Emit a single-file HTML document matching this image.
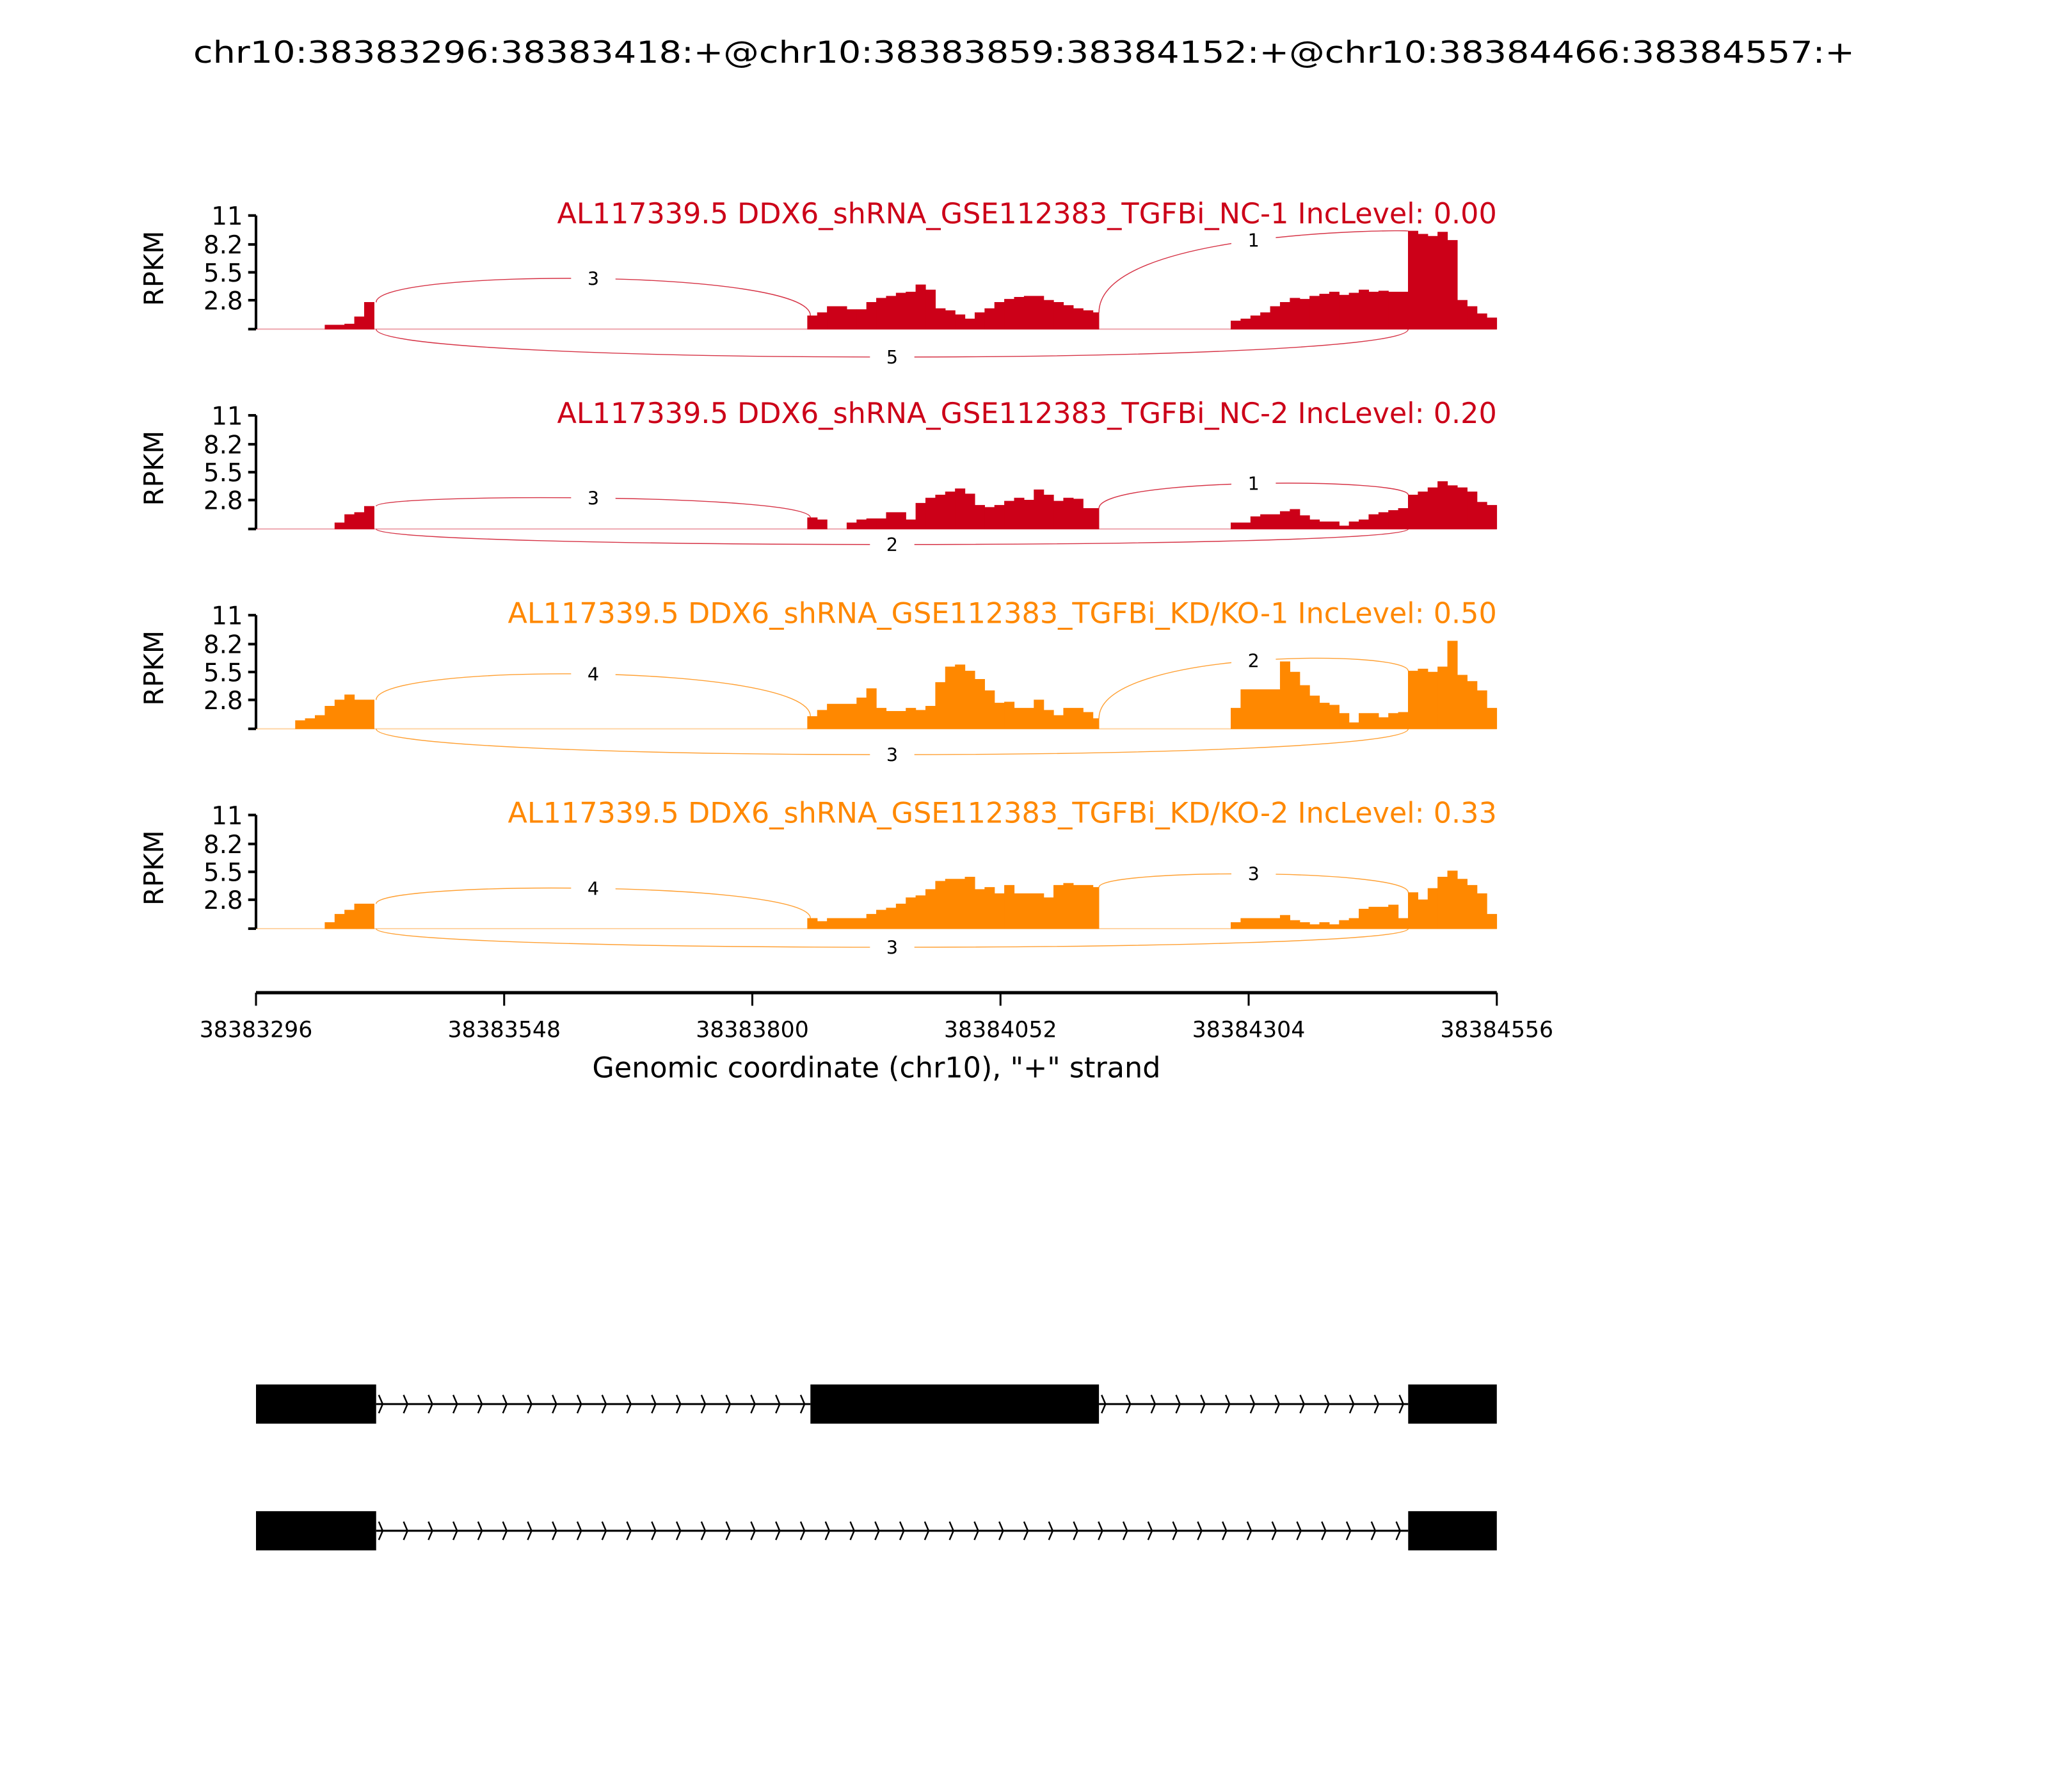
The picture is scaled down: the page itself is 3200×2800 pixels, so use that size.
<!DOCTYPE html>
<html><head><meta charset="utf-8"><style>
html,body{margin:0;padding:0;background:#fff;}
svg{display:block;font-family:"DejaVu Sans","Liberation Sans",sans-serif;}
</style></head><body>
<svg id="chart" xmlns="http://www.w3.org/2000/svg" width="3200" height="2800" viewBox="0 0 1568 1372">
<rect width="1568" height="1372" fill="#fff"/>
<text x="784" y="48" text-anchor="middle" font-size="23" textLength="1272" lengthAdjust="spacingAndGlyphs">chr10:38383296:38383418:+@chr10:38383859:38384152:+@chr10:38384466:38384557:+</text>
<g id="panels"></g>
<g id="xaxis"></g>
<g id="genes"></g>
</svg>
<script>
const NS="http://www.w3.org/2000/svg";
// ---- data ----
const gStart=38383296, gEnd=38384556;
const xTicks=[38383296,38383548,38383800,38384052,38384304,38384556];
const yTicks=[0,2.8,5.5,8.2,11];
const yTickLabels=["","2.8","5.5","8.2","11"];
const binSize=10;
const regionStarts=[38383336,38383856,38384286];
const regionEnds=[38383418,38384152,38384556];
const sampleNames=["AL117339.5 DDX6_shRNA_GSE112383_TGFBi_NC-1 IncLevel: 0.00","AL117339.5 DDX6_shRNA_GSE112383_TGFBi_NC-2 IncLevel: 0.20","AL117339.5 DDX6_shRNA_GSE112383_TGFBi_KD/KO-1 IncLevel: 0.50","AL117339.5 DDX6_shRNA_GSE112383_TGFBi_KD/KO-2 IncLevel: 0.33"];
const sampleColors=["#cc0018","#cc0018","#ff8800","#ff8800"];
const covA1=[0,0,0,0.4,0.4,0.5,1.2,2.6];
const covB1=[1.3,1.6,2.2,2.2,1.9,1.9,2.6,3.0,3.2,3.5,3.6,4.3,3.8,2.0,1.8,1.4,1.0,1.6,2.0,2.6,2.9,3.1,3.2,3.2,2.8,2.6,2.3,2.0,1.8,1.6];
const covC1=[0.8,1.0,1.3,1.6,2.2,2.6,3.0,2.9,3.2,3.4,3.6,3.3,3.5,3.8,3.6,3.7,3.6,3.6,9.5,9.2,9.0,9.4,8.6,2.8,2.2,1.5,1.1];
const covA2=[0,0,0,0,0.6,1.4,1.6,2.2];
const covB2=[1.1,0.9,0,0,0.6,0.9,1.0,1.0,1.6,1.6,0.9,2.5,3.0,3.3,3.6,3.9,3.4,2.3,2.1,2.3,2.7,3.0,2.8,3.8,3.3,2.7,3.0,2.9,2.0,2.0];
const covC2=[0.6,0.6,1.2,1.4,1.4,1.7,1.9,1.3,0.9,0.7,0.7,0.3,0.7,0.9,1.4,1.6,1.8,2.0,3.3,3.6,4.0,4.6,4.2,4.0,3.6,2.6,2.3];
const covA3=[0.8,1.0,1.3,2.2,2.8,3.3,2.8,2.8];
const covB3=[1.2,1.8,2.4,2.4,2.4,3.0,3.9,2.0,1.7,1.7,2.0,1.8,2.2,4.5,6.0,6.2,5.6,4.8,3.7,2.5,2.6,2.0,2.0,2.8,1.8,1.3,2.0,2.0,1.6,1.0];
const covC3=[2.0,3.8,3.8,3.8,3.8,6.5,5.5,4.2,3.2,2.5,2.3,1.5,0.6,1.5,1.5,1.1,1.5,1.6,5.6,5.8,5.5,6.0,8.5,5.2,4.6,3.7,2.0];
const covA4=[0,0,0,0.6,1.4,1.8,2.4,2.4];
const covB4=[1.0,0.7,1.0,1.0,1.0,1.0,1.4,1.8,2.0,2.4,3.0,3.2,3.8,4.6,4.8,4.8,5.0,3.8,4.0,3.4,4.2,3.4,3.4,3.4,3.0,4.2,4.4,4.2,4.2,4.0];
const covC4=[0.6,1.0,1.0,1.0,1.0,1.3,0.8,0.6,0.4,0.6,0.4,0.8,1.0,1.9,2.1,2.1,2.3,1.0,3.5,2.8,3.9,5.0,5.6,4.8,4.2,3.4,1.4];
const coverage=[[covA1,covB1,covC1],[covA2,covB2,covC2],[covA3,covB3,covC3],[covA4,covB4,covC4]];
const junctionDonors=[38383418,38384152,38383418];
const junctionAcceptors=[38383859,38384466,38384466];
const junctionCounts1=[3,1,5];
const junctionCounts2=[3,1,2];
const junctionCounts3=[4,2,3];
const junctionCounts4=[4,3,3];
const junctionCounts=[junctionCounts1,junctionCounts2,junctionCounts3,junctionCounts4];
const arcPeaks=[[4.9,8.6,-2.7],[3.0,4.4,-1.5],[5.3,6.6,-2.5],[3.9,5.3,-1.8]];
const exonsTrack1=[[38383296,38383418],[38383859,38384152],[38384466,38384557]];
const exonsTrack2=[[38383296,38383418],[38384466,38384557]];
// ---- layout ----
const X0=196,X1=1146;
const panelTops=[165,318,471,624];
const panelH=87, yMax=11;
const xs=g=>X0+(g-gStart)*(X1-X0)/(gEnd-gStart);
function el(tag,attrs,parent){const e=document.createElementNS(NS,tag);for(const k in attrs)e.setAttribute(k,attrs[k]);parent.appendChild(e);return e;}
const panels=document.getElementById('panels');
function covAt(p,g){
  for(let r=0;r<3;r++){const s=regionStarts[r];if(g>=s&&g<=regionEnds[r]){let i=Math.min(Math.floor((g-s)/binSize),coverage[p][r].length-1);return coverage[p][r][i];}}
  return 0;
}
for(let p=0;p<4;p++){
  const top=panelTops[p], base=top+panelH;
  const ys=v=>base-v*panelH/yMax;
  const col=sampleColors[p];
  const g=el('g',{},panels);
  
  
  const bl=el('line',{x1:X0,x2:X1,y1:base,y2:base,stroke:col,'stroke-opacity':0.35,'stroke-width':1},g);
  
  
  for(let r=0;r<3;r++){
    const vals=coverage[p][r];
    let d='';
    for(let i=0;i<vals.length;i++){
      const a=regionStarts[r]+i*binSize, b=Math.min(a+binSize,regionEnds[r]);
      if(a>=regionEnds[r])break;
      if(vals[i]<=0)continue;
      d+=`M${xs(a)},${base}V${ys(vals[i])}H${xs(b)}V${base}Z`;
    }
    const path=el('path',{d:d,fill:col,stroke:col,'stroke-width':0.3},g);
    
    
  }
  for(let j=0;j<3;j++){
    const x1=xs(junctionDonors[j]), x2=xs(junctionAcceptors[j]);
    const y1=ys(covAt(p,junctionDonors[j]-1)), y2=ys(covAt(p,junctionAcceptors[j]+1));
    const below=arcPeaks[p][j]<0;
    const sy1=below?base:y1, sy2=below?base:y2;
    const peak=ys(arcPeaks[p][j]);
    const yc=(8*peak-sy1-sy2)/6;
    const arc=el('path',{d:`M${x1},${sy1}C${x1},${yc} ${x2},${yc} ${x2},${sy2}`,fill:'none',stroke:col,'stroke-width':0.7,'stroke-opacity':0.8},g);
    
    
    const mx=(x1+x2)/2;
    const bg=el('rect',{x:mx-17,y:peak-8,width:34,height:16,fill:'#fff'},g);
    
    
    const t=el('text',{x:mx,y:peak+5,'text-anchor':'middle','font-size':14},g);
    
    
    t.textContent=junctionCounts[p][j];
  }
  const ax=el('line',{x1:X0,x2:X0,y1:top,y2:base,stroke:'#000','stroke-width':2},g);
  
  
  yTicks.forEach((v,i)=>{
    const tk=el('line',{x1:X0-6,x2:X0,y1:ys(v),y2:ys(v),stroke:'#000','stroke-width':2},g);
    
    
    if(yTickLabels[i]){
      const tl=el('text',{x:X0-10,y:ys(v)+7,'text-anchor':'end','font-size':19},g);
      
      
      tl.textContent=yTickLabels[i];
    }
  });
  const yl=el('text',{x:0,y:0,'text-anchor':'middle','font-size':20.5,transform:`translate(125,${top+panelH/2-3}) rotate(-90)`},g);
  
  
  yl.textContent='RPKM';
  const st=el('text',{x:X1,y:top+6,'text-anchor':'end','font-size':21.8,fill:col},g);
  
  
  st.textContent=sampleNames[p];
}
const xa=document.getElementById('xaxis');
const xl=el('line',{x1:X0,x2:X1,y1:760,y2:760,stroke:'#000','stroke-width':2.5},xa);


xTicks.forEach(v=>{
  const tk=el('line',{x1:xs(v),x2:xs(v),y1:760,y2:770,stroke:'#000','stroke-width':1.5},xa);
  
  
  const tl=el('text',{x:xs(v),y:794,'text-anchor':'middle','font-size':17},xa);
  
  
  tl.textContent=v;
});
const xt=el('text',{x:671,y:825,'text-anchor':'middle','font-size':21.8},xa);


xt.textContent='Genomic coordinate (chr10), "+" strand';
const gn=document.getElementById('genes');
function track(exons,cy,name){
  const g=el('g',{},gn);
  
  
  for(let i=0;i<exons.length-1;i++){
    const a=xs(exons[i][1]), b=xs(exons[i+1][0]);
    const ln=el('line',{x1:a,x2:b,y1:cy,y2:cy,stroke:'#000','stroke-width':1.5},g);
    
    
    let d='';
    for(let x=a+2;x<b-4;x+=19){d+=`M${x},${cy-7}L${x+3},${cy}L${x},${cy+7}`;}
    const ch=el('path',{d:d,fill:'none',stroke:'#000','stroke-width':1.2},g);
    
    
  }
  exons.forEach(e=>{
    const r=el('rect',{x:xs(e[0]),y:cy-15,width:Math.min(xs(e[1]),X1)-xs(e[0]),height:30,fill:'#000'},g);
    
    
  });
}
track(exonsTrack1,1075,'isoform-inclusion');
track(exonsTrack2,1172,'isoform-exclusion');
</script>
</body></html>
